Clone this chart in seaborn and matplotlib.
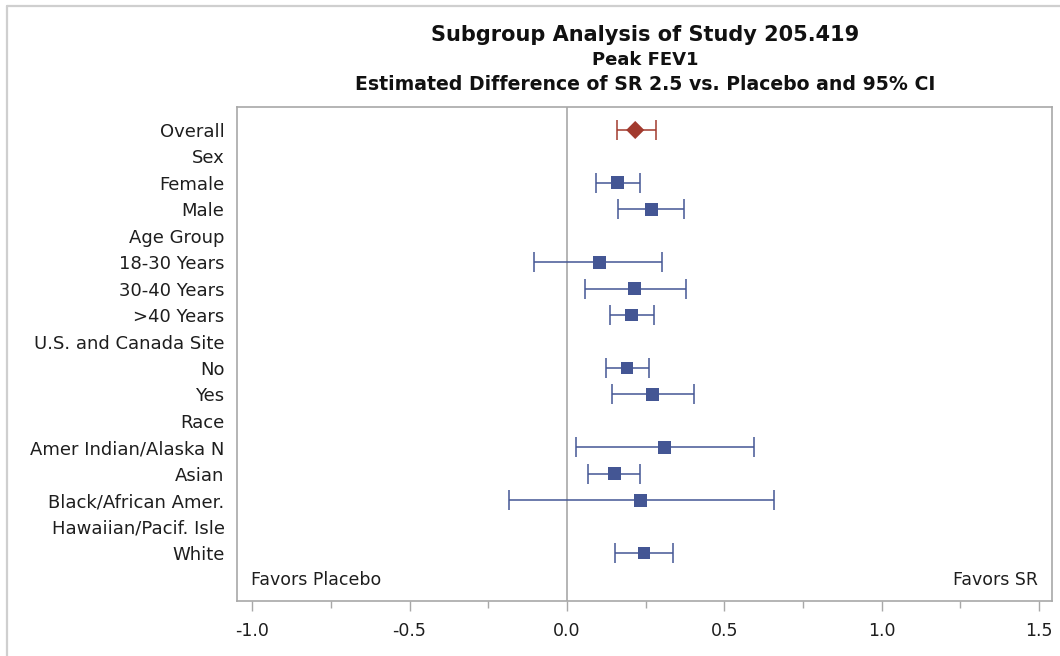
import numpy as np
import pandas as pd
import matplotlib
matplotlib.use("Agg")
import matplotlib.pyplot as plt
from matplotlib.lines import Line2D
from matplotlib.ticker import MultipleLocator
import seaborn as sns

# ---- data ----
labels = ["Overall", "Sex", "Female", "Male", "Age Group", "18-30 Years", "30-40 Years",
          ">40 Years", "U.S. and Canada Site", "No", "Yes", "Race", "Amer Indian/Alaska N",
          "Asian", "Black/African Amer.", "Hawaiian/Pacif. Isle", "White"]
estimate = [0.217, np.nan, 0.161, 0.270, np.nan, 0.103, 0.216, 0.206, np.nan, 0.191, 0.272,
            np.nan, 0.309, 0.152, 0.233, np.nan, 0.245]
lower = [0.159, np.nan, 0.092, 0.161, np.nan, -0.104, 0.059, 0.137, np.nan, 0.125, 0.142,
         np.nan, 0.029, 0.068, -0.184, np.nan, 0.154]
upper = [0.282, np.nan, 0.232, 0.372, np.nan, 0.303, 0.378, 0.277, np.nan, 0.262, 0.404,
         np.nan, 0.593, 0.233, 0.657, np.nan, 0.338]
kind = ["overall"] + ["subgroup"] * 16
title_lines = ["Subgroup Analysis of Study 205.419", "Peak FEV1",
               "Estimated Difference of SR 2.5 vs. Placebo and 95% CI"]
xticks = [-1.0, -0.5, 0.0, 0.5, 1.0, 1.5]

df = pd.DataFrame({"label": labels, "est": estimate, "lo": lower, "hi": upper, "kind": kind})
df["pos"] = np.arange(len(df))

BLUE = "#445694"
RED = "#A23A2E"
GRAY = "#a8a8a8"
TXT = "#1e1e1e"

sns.set_theme(style="white")
plt.rcParams["font.family"] = ["DejaVu Sans"]

W, H = 1060, 656
fig = plt.figure(figsize=(W / 100, H / 100), dpi=100)
ax = fig.add_axes([237 / W, 1 - 601 / H, (1052 - 237) / W, (601 - 107) / H])

# zero reference line
ax.axvline(0, color=GRAY, lw=1.2, zorder=1)

# confidence intervals
for k, col in [("overall", RED), ("subgroup", BLUE)]:
    d = df[(df["kind"] == k) & df["est"].notna()]
    ax.errorbar(d["est"], d["pos"], xerr=[d["est"] - d["lo"], d["hi"] - d["est"]],
                fmt="none", ecolor=col, elinewidth=1.1, capsize=7, capthick=1.1, zorder=2)

# point estimates
dd = df[df["est"].notna()]
sns.scatterplot(data=dd, x="est", y="pos", hue="kind", style="kind",
                palette={"overall": RED, "subgroup": BLUE},
                markers={"overall": "D", "subgroup": "s"},
                s=85, linewidth=0, legend=False, ax=ax, zorder=3)

ax.set_xlim(-1.048, 1.541)
ax.set_ylim(17.815, -0.87)
ax.set_yticks(df["pos"])
ax.set_yticklabels(df["label"], fontsize=13, color=TXT)
ax.set_xticks(xticks)
ax.set_xticklabels([f"{t:.1f}" for t in xticks], fontsize=12.5, color=TXT)
ax.xaxis.set_minor_locator(MultipleLocator(0.25))
ax.set_xlabel("")
ax.set_ylabel("")
ax.tick_params(axis="y", length=0, pad=9)
ax.tick_params(axis="x", which="major", length=7, width=1, color=GRAY, pad=8, bottom=True)
ax.tick_params(axis="x", which="minor", length=5, width=1, color=GRAY, bottom=True)
for sp in ax.spines.values():
    sp.set_color(GRAY)
    sp.set_linewidth(1.2)

ax.text(0.0172, 0.0425, "Favors Placebo", transform=ax.transAxes, ha="left", va="center",
        fontsize=12.5, color=TXT)
ax.text(0.983, 0.0425, "Favors SR", transform=ax.transAxes, ha="right", va="center",
        fontsize=12.5, color=TXT)

# titles
cx = 645 / W
fig.text(cx, 1 - 35 / H, title_lines[0], ha="center", va="center", fontsize=15,
         fontweight="bold", color="#111111")
fig.text(cx, 1 - 60 / H, title_lines[1], ha="center", va="center", fontsize=13,
         fontweight="bold", color="#111111")
fig.text(cx, 1 - 85 / H, title_lines[2], ha="center", va="center", fontsize=13.6,
         fontweight="bold", color="#111111")

# outer frame
fig.add_artist(Line2D([6.5 / W, 6.5 / W], [0, 1 - 5.5 / H], transform=fig.transFigure,
                      color="#cfcfcf", lw=1.6))
fig.add_artist(Line2D([6.5 / W, 1], [1 - 5.5 / H, 1 - 5.5 / H], transform=fig.transFigure,
                      color="#cfcfcf", lw=1.6))

fig.savefig("out.png", dpi=100)
